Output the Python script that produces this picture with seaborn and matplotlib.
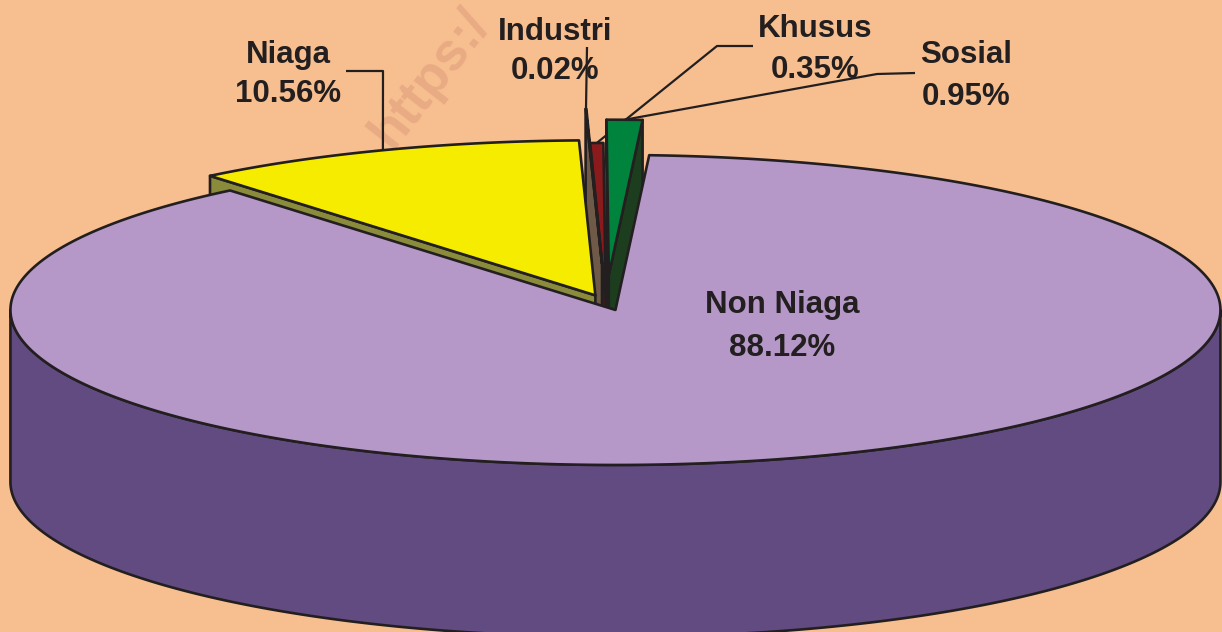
import numpy as np
import matplotlib
matplotlib.use("Agg")
import matplotlib.pyplot as plt
import seaborn as sns
from matplotlib.patches import Polygon

# ---------------- data ----------------
categories = ["Non Niaga", "Niaga", "Industri", "Khusus", "Sosial"]
values = [88.12, 10.56, 0.02, 0.35, 0.95]
value_labels = ["88.12%", "10.56%", "0.02%", "0.35%", "0.95%"]

# ---------------- style ----------------
top_colors = ["#B598C7", "#F6EC00", "#8C735A", "#8B1A1C", "#00843D"]
side_colors = ["#624B80", "#8A8B3B", "#6E5A46", "#5A1012", "#1C3E1E"]
explode = [0.05, 0.05, 0.25, 0.03, 0.18]
edge = "#231F20"
bg = "#F7BF8F"

sns.set_theme(style="white")
plt.rcParams['font.family'] = ['Liberation Sans', 'DejaVu Sans']

W, H = 1222, 632
fig = plt.figure(figsize=(W / 100, H / 100), dpi=100)
fig.patch.set_facecolor(bg)
ax = fig.add_axes([0, 0, 1, 1])
ax.set_facecolor(bg)
ax.set_xlim(0, W)
ax.set_ylim(H, 0)
ax.axis('off')

# pie geometry (layout)
cx, cy, rx, ry, depth = 606, 302.6, 605, 155, 172
start = 3.2
total = sum(values)
spans = [v / total * 360 for v in values]
bounds = np.concatenate([[start], start + np.cumsum(spans)])


def rim(t, off, dz=0.0, r=1.0):
    t = np.radians(t)
    return (cx + off[0] + rx * r * np.sin(t), cy + off[1] - ry * r * np.cos(t) + dz)


def poly(pts, fc, z):
    ax.add_patch(Polygon(pts, closed=True, facecolor=fc, edgecolor=edge,
                         linewidth=1.9, joinstyle='round', zorder=z))


geo = []
for i in range(len(values)):
    a0, a1 = bounds[i], bounds[i + 1]
    mid = np.radians((a0 + a1) / 2)
    off = (explode[i] * rx * np.sin(mid), -explode[i] * ry * np.cos(mid))
    geo.append((a0, a1, off))


def draw_slice(i, z):
    a0, a1, off = geo[i]
    apex = (cx + off[0], cy + off[1])
    apex_b = (apex[0], apex[1] + depth)
    # outer wall (front half only)
    for lo_f, hi_f in [(90, 270), (450, 630)]:
        lo, hi = max(a0, lo_f), min(a1, hi_f)
        if hi > lo:
            ts = np.linspace(lo, hi, 200)
            topp = [rim(t, off) for t in ts]
            botp = [rim(t, off, depth) for t in ts[::-1]]
            poly(topp + botp, side_colors[i], z)
    # radial walls facing the viewer
    if np.sin(np.radians(a0)) < 0:
        poly([apex, rim(a0, off), rim(a0, off, depth), apex_b], side_colors[i], z)
    if np.sin(np.radians(a1)) > 0:
        poly([apex, rim(a1, off), rim(a1, off, depth), apex_b], side_colors[i], z)
    # top face
    ts = np.linspace(a0, a1, max(3, int((a1 - a0) * 2)))
    poly([apex] + [rim(t, off) for t in ts], top_colors[i], z + 0.5)


# watermark (behind the pie, runs off the top edge as in the source)
ax.text(392, 150, "https:/", rotation=52, rotation_mode='anchor', ha='left',
        va='baseline', fontsize=38, fontweight='bold', color='#E8AB83',
        zorder=0.5, clip_on=True)

order = [4, 3, 2, 1, 0]
for k, i in enumerate(order):
    draw_slice(i, 2 + k)

# ---------------- labels ----------------
fs = 22.5
label_layout = {
    # name: (center x, baseline line1, baseline line2)
    "Non Niaga": (782, 313, 356),
    "Niaga": (288, 63, 102),
    "Industri": (555, 40, 79),
    "Khusus": (815, 37, 78),
    "Sosial": (966, 63, 105),
}
for name, val in zip(categories, value_labels):
    x, b1, b2 = label_layout[name]
    ax.text(x, b1, name, ha='center', va='baseline', fontsize=fs,
            fontweight='bold', color=edge, zorder=20)
    ax.text(x, b2, val, ha='center', va='baseline', fontsize=fs,
            fontweight='bold', color=edge, zorder=20)

# leader lines: waypoints from label towards the slice rim
leaders = {
    "Niaga": ([(346, 71), (383, 71)], 19),
    "Industri": ([(587, 47)], 19),
    "Khusus": ([(753, 46), (717, 46)], 2.2),
    "Sosial": ([(915, 73), (877, 74)], 19),
}
for name, (pts, z) in leaders.items():
    i = categories.index(name)
    a0, a1, off = geo[i]
    anc = rim((a0 + a1) / 2, off)
    xs = [p[0] for p in pts] + [anc[0]]
    ys = [p[1] for p in pts] + [anc[1]]
    ax.plot(xs, ys, color=edge, lw=1.6, zorder=z, solid_capstyle='butt')

fig.savefig("out.png", dpi=100, facecolor=bg)
